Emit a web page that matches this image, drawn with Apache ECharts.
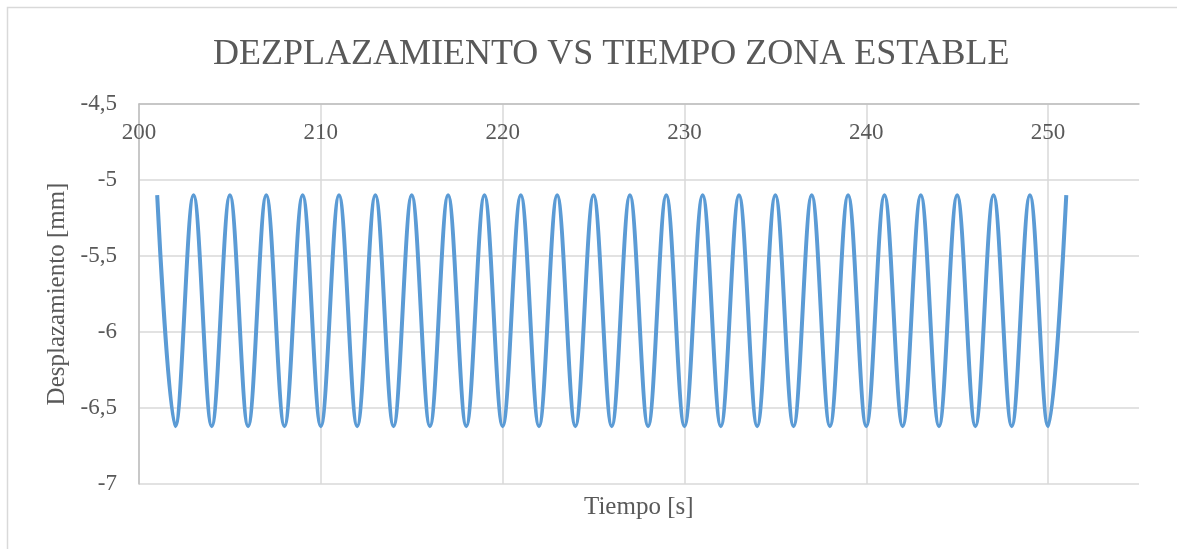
<!DOCTYPE html>
<html>
<head>
<meta charset="utf-8">
<script src="https://cdn.jsdelivr.net/npm/echarts@6/dist/echarts.min.js"></script>
<style>
  html, body { margin: 0; padding: 0; background: #ffffff; }
  #chart { width: 1177px; height: 549px; }
</style>
</head>
<body>
<div id="chart"></div>
<script>
// Time samples [s] at each crest and trough of the oscillation
var tiempo = [
  201, 202, 203, 204, 205, 206, 207, 208, 209, 210,
  211, 212, 213, 214, 215, 216, 217, 218, 219, 220,
  221, 222, 223, 224, 225, 226, 227, 228, 229, 230,
  231, 232, 233, 234, 235, 236, 237, 238, 239, 240,
  241, 242, 243, 244, 245, 246, 247, 248, 249, 250,
  251
];
// Displacement [mm] at those instants
var desplazamiento = [
  -5.10, -6.62, -5.10, -6.62, -5.10, -6.62, -5.10, -6.62, -5.10, -6.62,
  -5.10, -6.62, -5.10, -6.62, -5.10, -6.62, -5.10, -6.62, -5.10, -6.62,
  -5.10, -6.62, -5.10, -6.62, -5.10, -6.62, -5.10, -6.62, -5.10, -6.62,
  -5.10, -6.62, -5.10, -6.62, -5.10, -6.62, -5.10, -6.62, -5.10, -6.62,
  -5.10, -6.62, -5.10, -6.62, -5.10, -6.62, -5.10, -6.62, -5.10, -6.62,
  -5.10
];
var xTicks = [200, 210, 220, 230, 240, 250];
var yTicks = [-7, -6.5, -6, -5.5, -5, -4.5];

var serie = tiempo.map(function (t, i) { return [t, desplazamiento[i]]; });
var FONT = '"Liberation Serif", "Times New Roman", serif';
var GRIS = '#595959';

var chart = echarts.init(document.getElementById('chart'));
chart.setOption({
  animation: false,
  backgroundColor: '#ffffff',
  title: [
    {
      text: 'DEZPLAZAMIENTO VS TIEMPO ZONA ESTABLE',
      left: 208, top: 32,
      textStyle: { fontFamily: FONT, fontSize: 36, fontWeight: 'normal', color: GRIS }
    },
    {
      text: 'Tiempo [s]',
      left: 579, top: 490,
      textStyle: { fontFamily: FONT, fontSize: 25, fontWeight: 'normal', color: GRIS }
    }
  ],
  graphic: [{
    type: 'rect',
    shape: { x: 7.5, y: 7.5, width: 1200, height: 600 },
    style: { fill: 'none', stroke: '#d9d9d9', lineWidth: 1.5 },
    silent: true
  }],
  grid: { left: 139, right: 38, top: 104, bottom: 65 },
  xAxis: {
    type: 'value',
    position: 'top',
    min: xTicks[0], max: 255, interval: 10,
    axisLine: { show: true, lineStyle: { color: '#bfbfbf', width: 1.5 } },
    axisTick: { show: false },
    axisLabel: {
      inside: true, margin: 17, showMaxLabel: false,
      fontFamily: FONT, fontSize: 23, color: GRIS,
      formatter: function (v) { return xTicks.indexOf(v) >= 0 ? String(v) : ''; }
    },
    splitLine: { show: true, showMaxLine: false, lineStyle: { color: '#d9d9d9', width: 1.5 } }
  },
  yAxis: {
    type: 'value',
    min: yTicks[0], max: yTicks[yTicks.length - 1], interval: 0.5,
    name: 'Desplazamiento [mm]',
    nameLocation: 'middle', nameGap: 68,
    nameTextStyle: { fontFamily: FONT, fontSize: 25, color: GRIS },
    axisLine: { show: true, lineStyle: { color: '#bfbfbf', width: 1.5 } },
    axisTick: { show: false },
    axisLabel: {
      margin: 22, fontFamily: FONT, fontSize: 23, color: GRIS,
      formatter: function (v) { return String(v).replace('.', ','); }
    },
    splitLine: { show: true, lineStyle: { color: '#d9d9d9', width: 1.5 } }
  },
  series: [{
    type: 'line',
    data: serie,
    smooth: 0.36,
    showSymbol: false,
    lineStyle: { color: '#5b9bd5', width: 4 },
    itemStyle: { color: '#5b9bd5' }
  }]
});
</script>
</body>
</html>
